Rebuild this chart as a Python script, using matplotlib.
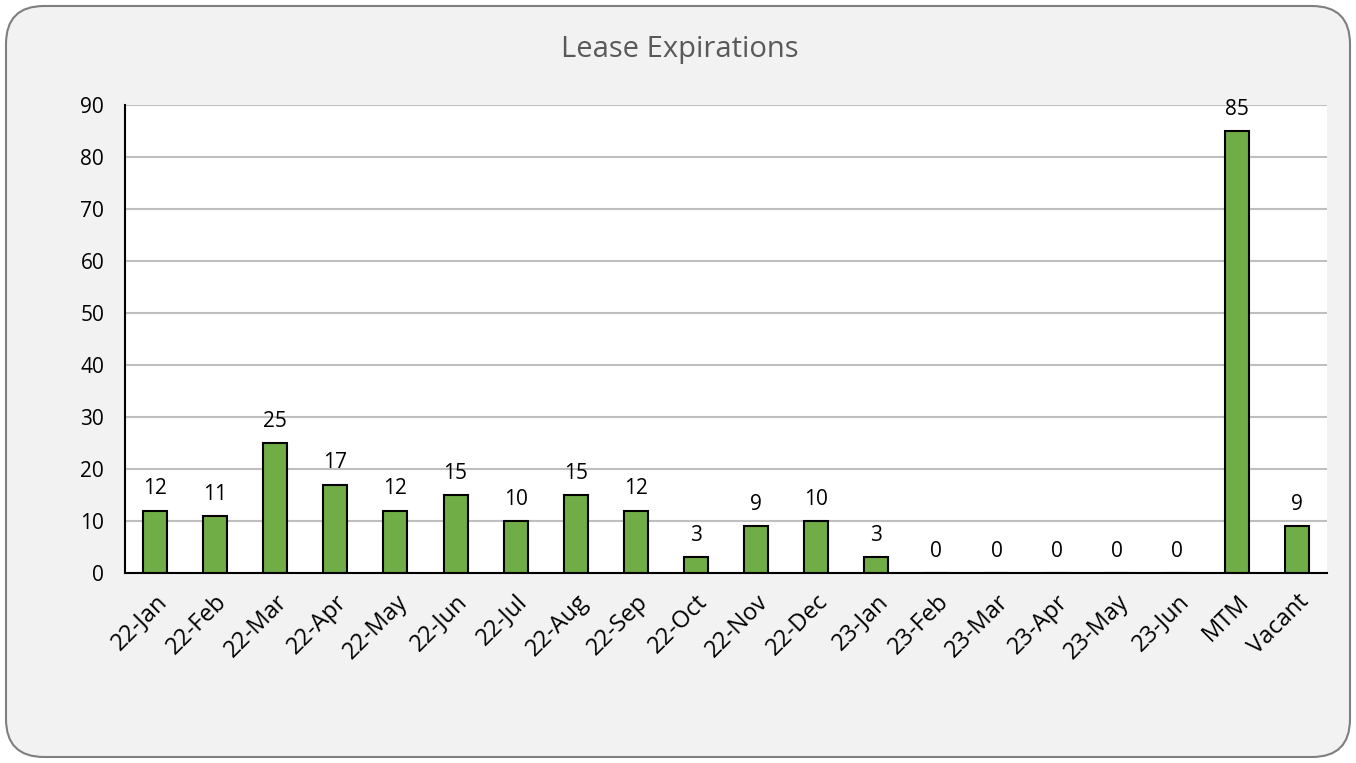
import matplotlib.pyplot as plt
from matplotlib.patches import FancyBboxPatch

plt.rcParams['font.family'] = ['Open Sans', 'DejaVu Sans']

months = ['22-Jan', '22-Feb', '22-Mar', '22-Apr', '22-May', '22-Jun', '22-Jul',
          '22-Aug', '22-Sep', '22-Oct', '22-Nov', '22-Dec', '23-Jan', '23-Feb',
          '23-Mar', '23-Apr', '23-May', '23-Jun', 'MTM', 'Vacant']
leases = [12, 11, 25, 17, 12, 15, 10, 15, 12, 3, 9, 10, 3, 0, 0, 0, 0, 0, 85, 9]

fig = plt.figure(figsize=(13.56, 7.63), dpi=100)
fig.patch.set_facecolor('white')
# rounded gray chart area
box = FancyBboxPatch((6/1356, 6/763), 1344/1356, 751/763,
                     boxstyle='round,pad=0,rounding_size=0.028',
                     transform=fig.transFigure, facecolor='#f2f2f2',
                     edgecolor='#7f7f7f', linewidth=1.5, mutation_aspect=1356/763,
                     zorder=-5)
fig.patches.append(box)

ax = fig.add_axes([125/1356, 1-573/763, 1202/1356, 468/763])
ax.set_facecolor('white')
x = range(len(months))
bars = ax.bar(x, leases, width=0.4, color='#70ad47', edgecolor='black', linewidth=1.5, zorder=3)
for xi, v in zip(x, leases):
    ax.annotate(str(v), (xi, v), xytext=(0, 8), textcoords='offset points',
                ha='center', va='bottom', fontsize=15, color='black')

ax.set_xlim(-0.5, len(months) - 0.5)
ax.set_ylim(0, 90)
ax.set_yticks(range(0, 91, 10))
ax.yaxis.grid(True, color='#bfbfbf', linewidth=1.5, zorder=0)
ax.set_xticks(list(x))
ax.set_xticklabels(months, rotation=45, ha='right', rotation_mode='anchor')
ax.tick_params(axis='both', length=0)
ax.tick_params(axis='x', labelsize=17, pad=12)
ax.tick_params(axis='y', labelsize=15, pad=15)
for s in ['top', 'right']:
    ax.spines[s].set_visible(False)
ax.spines['left'].set_color('black')
ax.spines['left'].set_linewidth(1.5)
ax.spines['bottom'].set_color('black')
ax.spines['bottom'].set_linewidth(1.5)
ax.spines['bottom'].set_zorder(4)

fig.text(680/1356, 1-50/763, 'Lease Expirations', ha='center', va='center',
         fontsize=21, color='#595959')

fig.savefig('out.png', dpi=100)
